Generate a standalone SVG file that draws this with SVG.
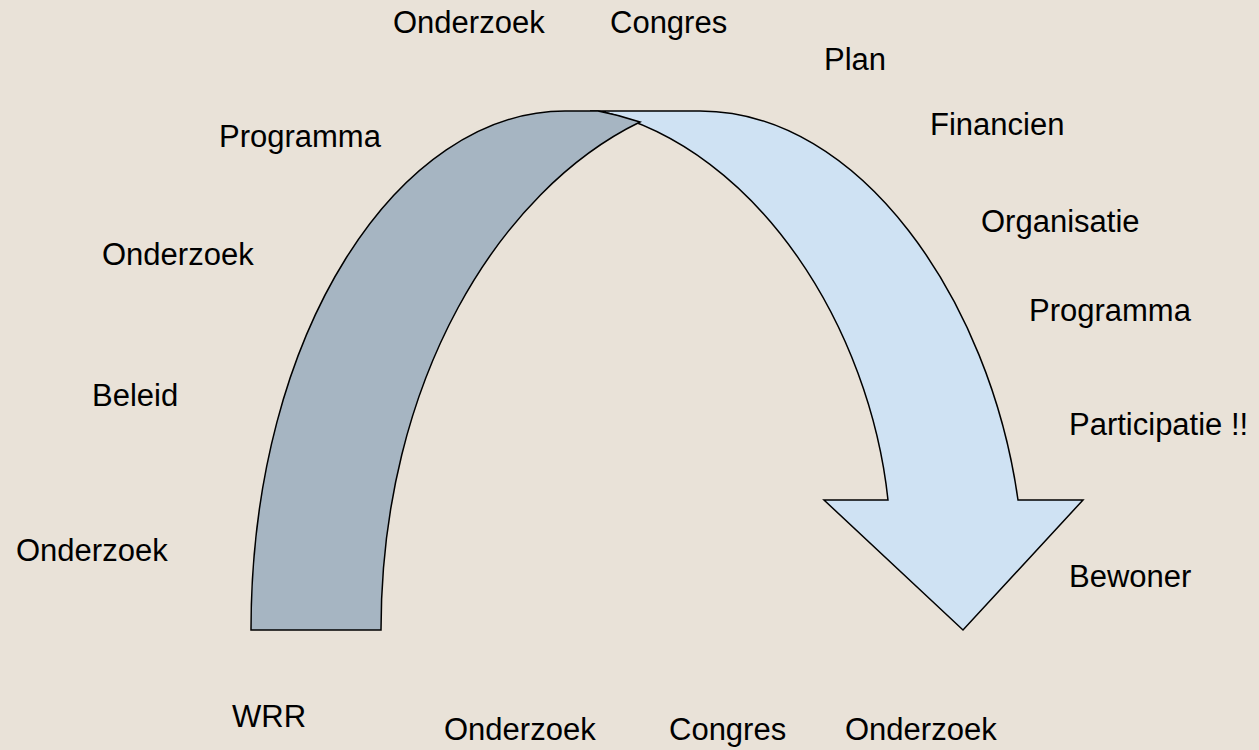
<svg xmlns="http://www.w3.org/2000/svg" width="1259" height="750" viewBox="0 0 1259 750">
<style>
.lbl{font-family:"Liberation Sans",Arial,sans-serif;font-size:31px;fill:#000}
.edge{stroke:#000;stroke-width:1.5;stroke-linejoin:miter}
</style>
<rect id="background" x="0" y="0" width="1259" height="750" fill="#e9e2d8"/>
<g id="connectors">
<path id="arrow-front" class="edge" fill="#cfe2f3" d="M 590 111 L 700 111 C 860 111 990 300 1018 500 L 1083 500 L 963 630 L 824 500 L 888 500 C 870 330 760 150 600 111 Z"/>
<path id="arrow-back" class="edge" fill="#a6b5c2" d="M 251 630 C 251 330 400 111 565 111 L 598 111 C 614 114 628 118 640 122 C 500 190 381 380 381 630 Z"/>
</g>
<g id="n-onderzoek-top"><text class="lbl" x="393" y="33">Onderzoek</text></g>
<g id="n-congres-top"><text class="lbl" x="610" y="33">Congres</text></g>
<g id="n-plan"><text class="lbl" x="824" y="70">Plan</text></g>
<g id="n-programma-left"><text class="lbl" x="219" y="147">Programma</text></g>
<g id="n-financien"><text class="lbl" x="930" y="135">Financien</text></g>
<g id="n-onderzoek-left1"><text class="lbl" x="102" y="265">Onderzoek</text></g>
<g id="n-organisatie"><text class="lbl" x="981" y="232">Organisatie</text></g>
<g id="n-programma-right"><text class="lbl" x="1029" y="321">Programma</text></g>
<g id="n-beleid"><text class="lbl" x="92" y="406">Beleid</text></g>
<g id="n-participatie"><text class="lbl" x="1069" y="435">Participatie !!</text></g>
<g id="n-onderzoek-left2"><text class="lbl" x="16" y="561">Onderzoek</text></g>
<g id="n-bewoner"><text class="lbl" x="1069" y="587">Bewoner</text></g>
<g id="n-wrr"><text class="lbl" x="232" y="727">WRR</text></g>
<g id="n-onderzoek-bottom1"><text class="lbl" x="444" y="740">Onderzoek</text></g>
<g id="n-congres-bottom"><text class="lbl" x="669" y="740">Congres</text></g>
<g id="n-onderzoek-bottom2"><text class="lbl" x="845" y="740">Onderzoek</text></g>
</svg>
